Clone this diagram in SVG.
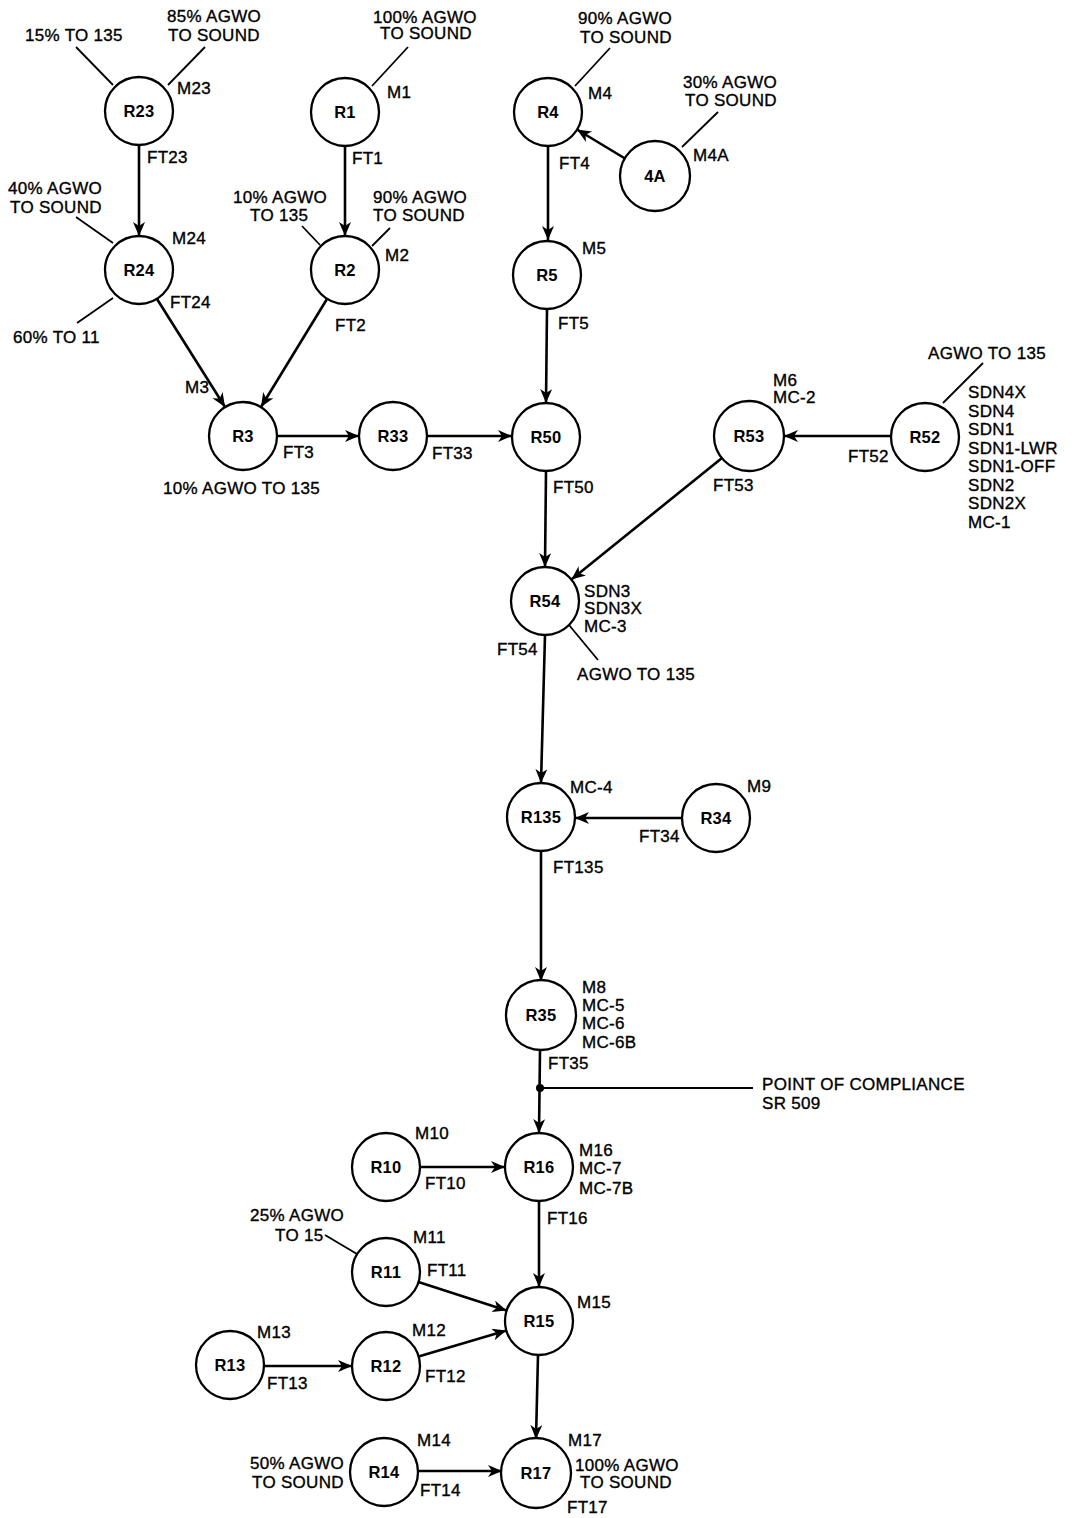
<svg xmlns="http://www.w3.org/2000/svg" width="1074" height="1518" viewBox="0 0 1074 1518">
<defs>
<marker id="ah" markerUnits="userSpaceOnUse" markerWidth="16" markerHeight="14" refX="14" refY="6" orient="auto">
<path d="M0,0 L14,6 L0,12 L4,6 z" fill="#000"/>
</marker>
<style>
.n circle{fill:#fff;stroke:#000;stroke-width:2.3}
.n text{font-family:"Liberation Sans",Arial,sans-serif;font-weight:bold;font-size:16.5px;text-anchor:middle;letter-spacing:0.3px}
.t{font-family:"Liberation Sans",Arial,sans-serif;font-size:17px;letter-spacing:0.3px;fill:#000;stroke:#000;stroke-width:0.35}
.a{stroke:#000;stroke-width:2.6;fill:none;marker-end:url(#ah)}
.l{stroke:#000;stroke-width:1.8;fill:none}
</style>
</defs>
<rect width="1074" height="1518" fill="#fff"/>

<g id="connectors">
<line class="a" x1="139" y1="146" x2="139" y2="236"/>
<line class="a" x1="345" y1="146" x2="345" y2="236"/>
<line class="a" x1="548" y1="146" x2="548" y2="240"/>
<line class="a" x1="625" y1="158.5" x2="577" y2="129.5"/>
<line class="a" x1="547" y1="309" x2="546" y2="403"/>
<line class="a" x1="157" y1="299" x2="225" y2="407"/>
<line class="a" x1="327" y1="299" x2="261" y2="407"/>
<line class="a" x1="277" y1="436" x2="359" y2="436"/>
<line class="a" x1="427" y1="436" x2="512" y2="436"/>
<line class="a" x1="891" y1="436" x2="784" y2="436"/>
<line class="a" x1="722.6" y1="457.4" x2="571.4" y2="579.6"/>
<line class="a" x1="546" y1="471" x2="545" y2="567"/>
<line class="a" x1="545" y1="635" x2="541" y2="783"/>
<line class="a" x1="682" y1="818" x2="575" y2="818"/>
<line class="a" x1="541" y1="851" x2="541" y2="981"/>
<line class="a" x1="540" y1="1050" x2="539" y2="1133"/>
<line class="a" x1="420" y1="1167" x2="505" y2="1167"/>
<line class="a" x1="539" y1="1201" x2="539" y2="1287"/>
<line class="a" x1="418.4" y1="1282" x2="506.6" y2="1310.6"/>
<line class="a" x1="418.6" y1="1356.4" x2="506.4" y2="1330.6"/>
<line class="a" x1="264" y1="1366" x2="352" y2="1366"/>
<line class="a" x1="538" y1="1355" x2="536" y2="1439"/>
<line class="a" x1="418" y1="1471" x2="502" y2="1471"/>
<line class="l" x1="76" y1="47" x2="113" y2="85"/>
<line class="l" x1="205" y1="47" x2="168" y2="85"/>
<line class="l" x1="408" y1="47" x2="372" y2="86"/>
<line class="l" x1="76" y1="217" x2="113" y2="243"/>
<line class="l" x1="113" y1="298" x2="77" y2="323"/>
<line class="l" x1="302" y1="226" x2="320" y2="245"/>
<line class="l" x1="390" y1="228" x2="372" y2="246"/>
<line class="l" x1="610" y1="48" x2="575" y2="86"/>
<line class="l" x1="718" y1="112" x2="682" y2="147"/>
<line class="l" x1="983" y1="363" x2="943" y2="403"/>
<line class="l" x1="569" y1="625" x2="598" y2="660"/>
<line class="l" x1="325" y1="1235" x2="357" y2="1254"/>
<line class="l" x1="540" y1="1088" x2="753" y2="1088"/>
<circle cx="540" cy="1088" r="4" fill="#000"/>
</g>

<g id="R23" class="n"><circle cx="139" cy="111" r="34"/><text x="139" y="117">R23</text></g>
<g id="R1" class="n"><circle cx="345" cy="112" r="34"/><text x="345" y="118">R1</text></g>
<g id="R4" class="n"><circle cx="548" cy="112" r="34"/><text x="548" y="118">R4</text></g>
<g id="N4A" class="n"><circle cx="655" cy="176" r="35"/><text x="655" y="182">4A</text></g>
<g id="R24" class="n"><circle cx="139" cy="270" r="34"/><text x="139" y="276">R24</text></g>
<g id="R2" class="n"><circle cx="345" cy="270" r="34"/><text x="345" y="276">R2</text></g>
<g id="R5" class="n"><circle cx="547" cy="275" r="34"/><text x="547" y="281">R5</text></g>
<g id="R3" class="n"><circle cx="243" cy="436" r="34"/><text x="243" y="442">R3</text></g>
<g id="R33" class="n"><circle cx="393" cy="436" r="34"/><text x="393" y="442">R33</text></g>
<g id="R50" class="n"><circle cx="546" cy="437" r="34"/><text x="546" y="443">R50</text></g>
<g id="R53" class="n"><circle cx="749" cy="436" r="35"/><text x="749" y="442">R53</text></g>
<g id="R52" class="n"><circle cx="925" cy="437" r="34"/><text x="925" y="443">R52</text></g>
<g id="R54" class="n"><circle cx="545" cy="601" r="34"/><text x="545" y="607">R54</text></g>
<g id="R135" class="n"><circle cx="541" cy="817" r="34"/><text x="541" y="823">R135</text></g>
<g id="R34" class="n"><circle cx="716" cy="818" r="34"/><text x="716" y="824">R34</text></g>
<g id="R35" class="n"><circle cx="541" cy="1015" r="35"/><text x="541" y="1021">R35</text></g>
<g id="R10" class="n"><circle cx="386" cy="1167" r="34"/><text x="386" y="1173">R10</text></g>
<g id="R16" class="n"><circle cx="539" cy="1167" r="34"/><text x="539" y="1173">R16</text></g>
<g id="R11" class="n"><circle cx="386" cy="1272" r="34"/><text x="386" y="1278">R11</text></g>
<g id="R15" class="n"><circle cx="539" cy="1321" r="34"/><text x="539" y="1327">R15</text></g>
<g id="R13" class="n"><circle cx="230" cy="1365" r="34"/><text x="230" y="1371">R13</text></g>
<g id="R12" class="n"><circle cx="386" cy="1366" r="34"/><text x="386" y="1372">R12</text></g>
<g id="R14" class="n"><circle cx="384" cy="1472" r="34"/><text x="384" y="1478">R14</text></g>
<g id="R17" class="n"><circle cx="536" cy="1473" r="35"/><text x="536" y="1479">R17</text></g>

<g id="labels" class="t">
<text x="25" y="41">15% TO 135</text>
<text x="167" y="22">85% AGWO</text>
<text x="168" y="41">TO SOUND</text>
<text x="177" y="94">M23</text>
<text x="147" y="163">FT23</text>
<text x="8" y="194">40% AGWO</text>
<text x="10" y="213">TO SOUND</text>
<text x="172" y="244">M24</text>
<text x="170" y="308">FT24</text>
<text x="13" y="343">60% TO 11</text>
<text x="373" y="23">100% AGWO</text>
<text x="380" y="39">TO SOUND</text>
<text x="387" y="98">M1</text>
<text x="352" y="164">FT1</text>
<text x="233" y="203">10% AGWO</text>
<text x="250" y="221">TO 135</text>
<text x="373" y="203">90% AGWO</text>
<text x="373" y="221">TO SOUND</text>
<text x="385" y="261">M2</text>
<text x="335" y="331">FT2</text>
<text x="578" y="24">90% AGWO</text>
<text x="580" y="43">TO SOUND</text>
<text x="588" y="99">M4</text>
<text x="683" y="88">30% AGWO</text>
<text x="685" y="106">TO SOUND</text>
<text x="693" y="161">M4A</text>
<text x="559" y="169">FT4</text>
<text x="582" y="254">M5</text>
<text x="558" y="329">FT5</text>
<text x="185" y="393">M3</text>
<text x="283" y="458">FT3</text>
<text x="163" y="494">10% AGWO TO 135</text>
<text x="432" y="459">FT33</text>
<text x="553" y="493">FT50</text>
<text x="773" y="386">M6</text>
<text x="773" y="403">MC-2</text>
<text x="928" y="359">AGWO TO 135</text>
<text x="968" y="398">SDN4X</text>
<text x="968" y="416.5">SDN4</text>
<text x="968" y="435">SDN1</text>
<text x="968" y="453.5">SDN1-LWR</text>
<text x="968" y="472">SDN1-OFF</text>
<text x="968" y="490.5">SDN2</text>
<text x="968" y="509">SDN2X</text>
<text x="968" y="527.5">MC-1</text>
<text x="848" y="462">FT52</text>
<text x="713" y="491">FT53</text>
<text x="584" y="597">SDN3</text>
<text x="584" y="614">SDN3X</text>
<text x="584" y="632">MC-3</text>
<text x="497" y="655">FT54</text>
<text x="577" y="680">AGWO TO 135</text>
<text x="570" y="793">MC-4</text>
<text x="747" y="792">M9</text>
<text x="639" y="842">FT34</text>
<text x="553" y="873">FT135</text>
<text x="582" y="993">M8</text>
<text x="582" y="1011">MC-5</text>
<text x="582" y="1029">MC-6</text>
<text x="582" y="1048">MC-6B</text>
<text x="548" y="1069">FT35</text>
<text x="762" y="1090">POINT OF COMPLIANCE</text>
<text x="762" y="1109">SR 509</text>
<text x="415" y="1139">M10</text>
<text x="425" y="1189">FT10</text>
<text x="579" y="1156">M16</text>
<text x="579" y="1174">MC-7</text>
<text x="579" y="1194">MC-7B</text>
<text x="547" y="1224">FT16</text>
<text x="250" y="1221">25% AGWO</text>
<text x="275" y="1241">TO 15</text>
<text x="413" y="1243">M11</text>
<text x="427" y="1276">FT11</text>
<text x="577" y="1308">M15</text>
<text x="257" y="1338">M13</text>
<text x="267" y="1389">FT13</text>
<text x="412" y="1336">M12</text>
<text x="425" y="1382">FT12</text>
<text x="417" y="1446">M14</text>
<text x="250" y="1469">50% AGWO</text>
<text x="252" y="1488">TO SOUND</text>
<text x="420" y="1496">FT14</text>
<text x="568" y="1446">M17</text>
<text x="575" y="1471">100% AGWO</text>
<text x="580" y="1488">TO SOUND</text>
<text x="567" y="1513">FT17</text>
</g>
</svg>
